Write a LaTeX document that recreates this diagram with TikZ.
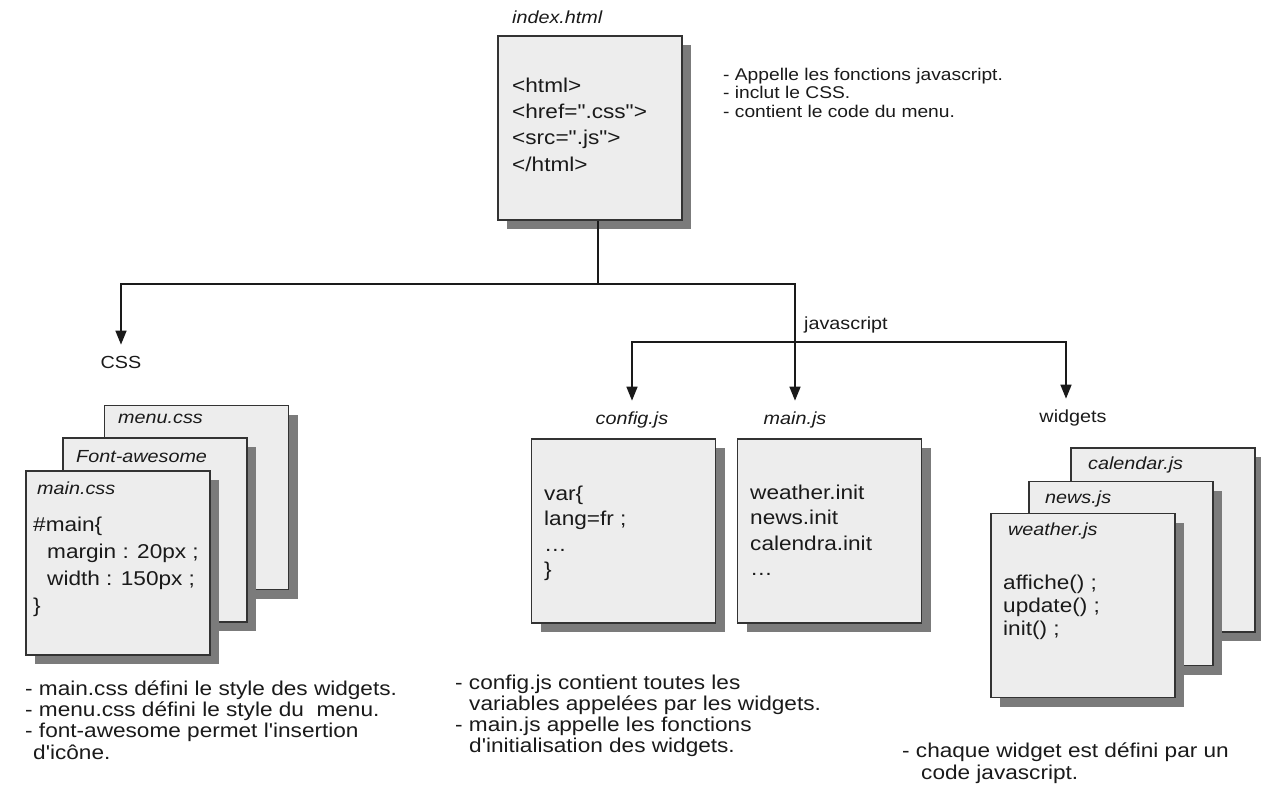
\documentclass[tikz,border=0pt]{standalone}
\usepackage{fontspec}
\setmainfont{Liberation Sans}[FakeStretch=1.13, Ligatures=TeXOff]
\usetikzlibrary{arrows.meta,shadows}
\definecolor{boxfill}{HTML}{EDEDED}
\definecolor{boxline}{HTML}{333333}
\definecolor{shadowgray}{HTML}{7B7B7B}
\definecolor{ink}{HTML}{1A1A1A}
\tikzset{
  filebox/.style={draw=boxline, line width=1.8pt, fill=boxfill,
    minimum width=184pt, minimum height=184pt, inner sep=0pt,
    general shadow={fill=shadowgray, shadow xshift=9pt, shadow yshift=-9pt}},
  fname/.style={font=\fontsize{17.5}{20}\selectfont\itshape, inner sep=0pt, anchor=west, text=ink},
  lbl/.style={font=\fontsize{17.5}{20}\selectfont, inner sep=0pt, text=ink},
  code/.style={font=\fontsize{20}{26}\selectfont, inner sep=0pt, anchor=base west, align=left, text=ink},
  desc/.style={font=\fontsize{20}{21}\selectfont, inner sep=0pt, anchor=base west, align=left, text=ink},
  conn/.style={draw=ink, line width=1.6pt},
  arr/.style={conn, -{Triangle[length=14pt,width=11pt]}, shorten >=11pt},
}
\begin{document}
\begin{tikzpicture}[x=1pt,y=-1pt]
\useasboundingbox[fill=white] (0,0) rectangle (1261,792);

% ---- index.html ----
\node[filebox] (index) at (590,128) {};
\node[fname] (indexlbl) at (512,17) {index.html};
% base anchor = baseline of the last line
\node[code, font=\fontsize{20}{26.3}\selectfont] (indexcode) at (512,171)
  {<html>\\<href=".css">\\<src=".js">\\</html>};
\node[desc, font=\fontsize{17}{18}\selectfont] (indexdesc) at (723,117)
  {- Appelle les fonctions javascript.\\- inclut le CSS.\\- contient le code du menu.};

% ---- connectors ----
\coordinate (j1) at (598,284);
\coordinate (j2) at (795,342);
\node[lbl] (css) at (121,362) {CSS};
\node[lbl, anchor=west] (jslbl) at (804,325) {javascript};
\node[fname, anchor=center] (configlbl) at (632,420) {config.js};
\node[fname, anchor=center] (mainjslbl) at (795,420) {main.js};
\node[lbl] (widgets) at (1073,418) {widgets};

\draw[conn] (index.south -| j1) -- (j1);
\draw[arr] (j1) -| (css.north);
\draw[arr] (j1) -| (mainjslbl.north);
\draw[arr] (j2) -| (configlbl.north);
\draw[arr] (j2) -| ([xshift=-7pt]widgets.north);

% ---- CSS stack ----
\node[filebox] (menucss) at (196.5,497.5) {};
\node[fname] at (118,419) {menu.css};
\node[filebox] (fontawesome) at (155,530) {};
\node[fname] at (76,457) {Font-awesome};
\node[filebox] (maincss) at (118,563) {};
\node[fname] at (37,488) {main.css};
\node[code, font=\fontsize{20}{26.7}\selectfont] (maincsscode) at (33,612)
  {\#main\{\\\hspace*{14pt}margin : 20px ;\\\hspace*{14pt}width : 150px ;\\\}};
\node[desc, font=\fontsize{20}{21.3}\selectfont] (cssdesc) at (25,759)
  {- main.css défini le style des widgets.\\- menu.css défini le style du \ menu.\\- font-awesome permet l'insertion\\\hspace*{8pt}d'icône.};

% ---- config.js / main.js ----
\node[filebox] (config) at (623.5,531) {};
\node[code, font=\fontsize{20}{25.5}\selectfont] (configcode) at (544,576.5)
  {var\{\\lang=fr ;\\\dots\\\}};
\node[filebox] (mainjs) at (829.5,531) {};
\node[code, font=\fontsize{20}{25.5}\selectfont] (mainjscode) at (750,575.5)
  {weather.init\\news.init\\calendra.init\\\dots};
\node[desc, font=\fontsize{20}{20.7}\selectfont] (jsdesc) at (455,752)
  {- config.js contient toutes les\\\hspace*{14pt}variables appelées par les widgets.\\- main.js appelle les fonctions\\\hspace*{14pt}d'initialisation des widgets.};

% ---- widgets stack ----
\node[filebox] (calendar) at (1163,540) {};
\node[fname] at (1088,465) {calendar.js};
\node[filebox] (news) at (1121,573.5) {};
\node[fname] at (1045,499) {news.js};
\node[filebox] (weather) at (1083,605.5) {};
\node[fname] at (1008,531) {weather.js};
\node[code, font=\fontsize{20}{23}\selectfont] (weathercode) at (1003,635)
  {affiche() ;\\update() ;\\init() ;};
\node[desc, font=\fontsize{20}{22}\selectfont] (wdesc) at (902,779)
  {- chaque widget est défini par un\\\hspace*{19pt}code javascript.};
\end{tikzpicture}
\end{document}
